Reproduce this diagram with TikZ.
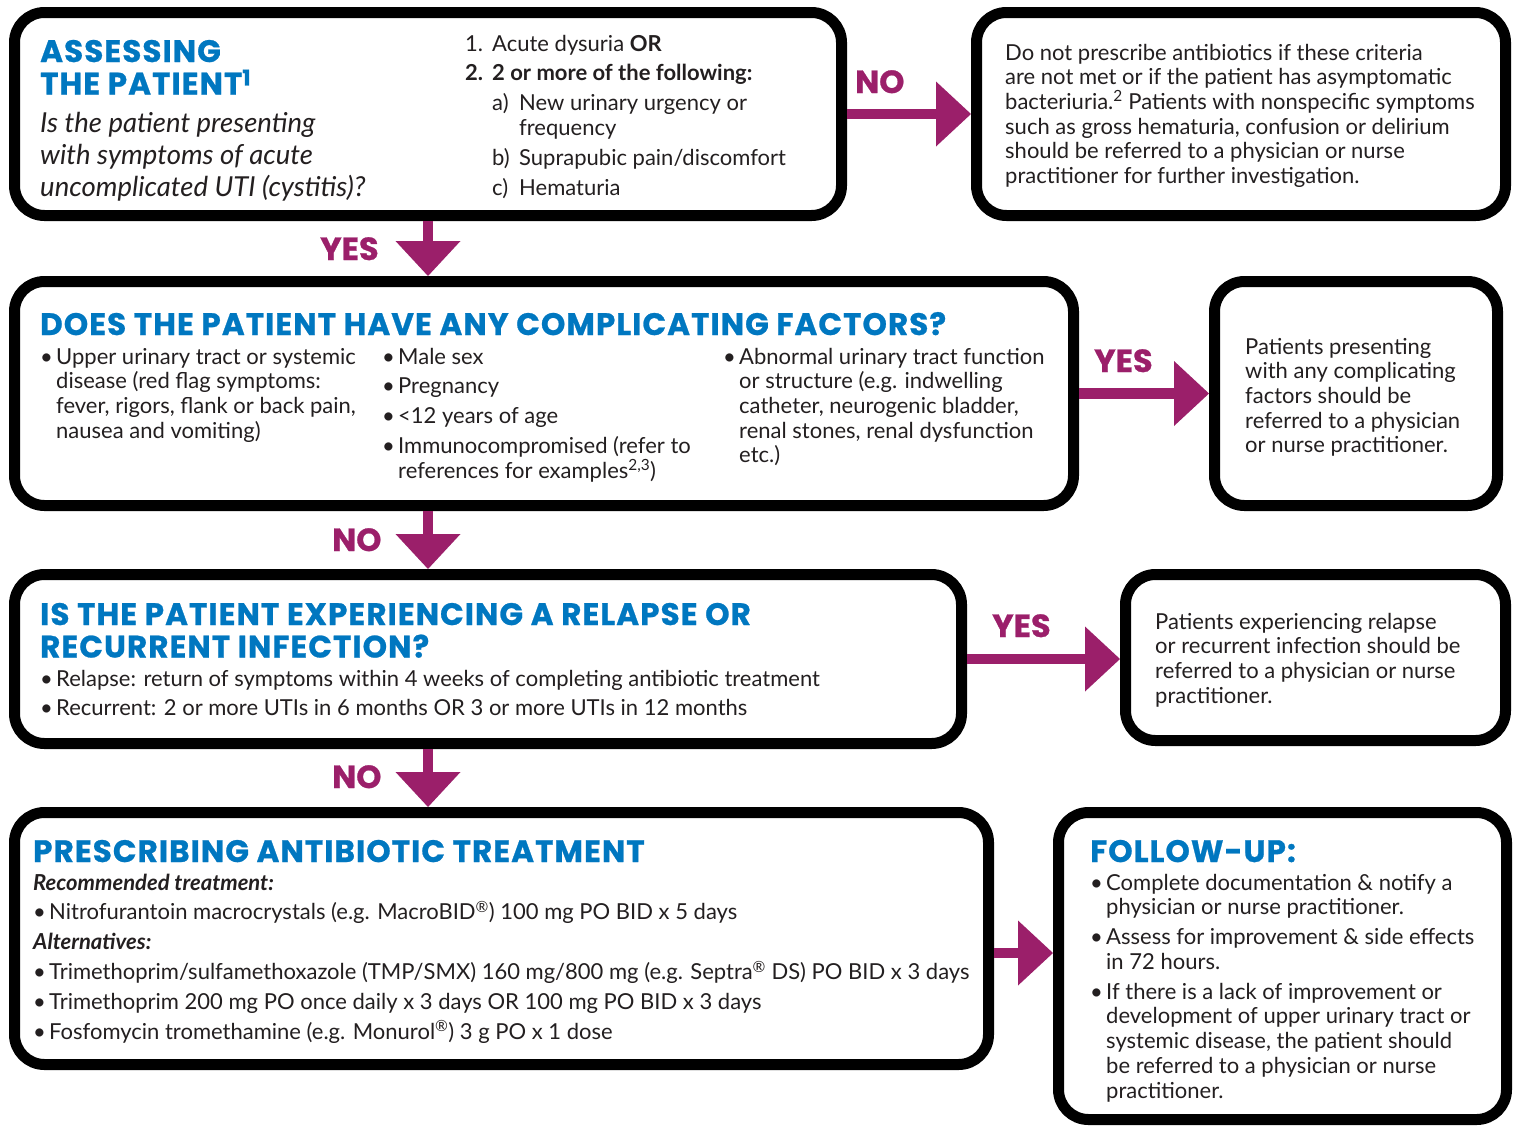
\documentclass[tikz,border=0pt]{standalone}
\usepackage{fontspec}
\setmainfont{Lato}
\newfontfamily\headfont{Poppins}[BoldFeatures={FakeBold=0.8,LetterSpace=3.5}]
\newfontfamily\labfont{Poppins}[BoldFeatures={FakeBold=0.8}]
\usetikzlibrary{arrows.meta,calc}
\definecolor{hblue}{RGB}{0,119,192}
\definecolor{arrc}{RGB}{155,31,106}
\definecolor{txtc}{RGB}{35,31,32}
\newcommand\bodyfont{\fontsize{22}{24.7}\selectfont}
\newcommand\hfont{\headfont\bfseries\fontsize{31}{32.5}\selectfont}
\newcommand\pb[2]{\parbox[t]{#1}{\setlength\parskip{5.2pt}\tolerance=9999 #2}}
\newcommand\bi[1]{{\hangindent=16pt\hangafter=1\noindent\makebox[16pt][l]{\textbullet}#1\par}}
\tikzset{
  box/.style={draw=black, line width=11pt, outer sep=5.5pt, rounded corners=30pt, fill=white, inner sep=0pt, anchor=north west, rectangle},
  txt/.style={inner sep=0pt, anchor=base west, text=txtc, font=\bodyfont},
  head/.style={inner sep=0pt, anchor=base west, text=hblue, font=\hfont},
  lab/.style={inner sep=0pt, anchor=base west, text=arrc, font=\labfont\bfseries\fontsize{32}{32}\selectfont},
  arr/.style={draw=arrc, line width=10.5pt, -{Triangle[length=35pt,width=65pt,line width=0pt]}},
}
\begin{document}
\begin{tikzpicture}[x=1pt,y=-1pt]
\useasboundingbox[fill=white] (0,0) rectangle (1517,1125);
% boxes
\node[box, minimum width=827pt, minimum height=203pt] (b1) at (9,7) {};
\node[box, minimum width=529pt, minimum height=203pt] (b2) at (971,7) {};
\node[box, minimum width=1059pt, minimum height=224pt] (b3) at (9,276) {};
\node[box, minimum width=283pt, minimum height=224pt] (b4) at (1209,276) {};
\node[box, minimum width=947pt, minimum height=169pt] (b5) at (9,569) {};
\node[box, minimum width=380pt, minimum height=166pt] (b6) at (1120,569) {};
\node[box, minimum width=974pt, minimum height=252pt] (b7) at (9,807) {};
\node[box, minimum width=448pt, minimum height=307pt] (b8) at (1053,807) {};
% arrows
\draw[arr] (b1.east) -- (b1.east -| b2.west);
\draw[arr] (b1.south) -- (b1.south |- b3.north);
\draw[arr] (b3.east) -- (b3.east -| b4.west);
\draw[arr] (b1.south |- b3.south) -- (b1.south |- b5.north);
\draw[arr] (b5.east) -- (b5.east -| b6.west);
\draw[arr] (b1.south |- b5.south) -- (b1.south |- b7.north);
\coordinate (a7) at (b7.east |- 0,953);
\draw[arr] (a7) -- (a7 -| b8.west);
% arrow labels
\node[lab] (n1) at (855,93) {NO};
\node[lab] (y1) at (320,260) {YES};
\node[lab] (y2) at (1094,372) {YES};
\node[lab] (n2) at (332,551) {NO};
\node[lab] (y3) at (992,637) {YES};
\node[lab] (n3) at (332,788) {NO};
% box 1
\node[head] (h1) at (40,62) {\pb{400pt}{ASSESSING\\THE PATIENT\textsuperscript{1}}};
\node[txt, font=\itshape\fontsize{27.5}{32}\selectfont] (q1) at (40,132) {\pb{400pt}{Is the patient presenting\\with symptoms of acute\\uncomplicated UTI (cystitis)?}};
\node[txt] (l1) at (465,51) {\pb{380pt}{%
\makebox[27pt][l]{1.}Acute dysuria \textbf{OR}\par
\textbf{\makebox[27pt][l]{2.}2 or more of the following:}\par
{\leftskip=27pt\hangindent=27pt\hangafter=1\noindent\makebox[27pt][l]{a)}New urinary urgency or\\frequency\par}
{\leftskip=27pt\hangindent=27pt\hangafter=1\noindent\makebox[27pt][l]{b)}Suprapubic pain/discomfort\par}
{\leftskip=27pt\hangindent=27pt\hangafter=1\noindent\makebox[27pt][l]{c)}Hematuria\par}}};
% box 2
\node[txt] (t2) at (1005,60) {\pb{500pt}{Do not prescribe antibiotics if these criteria\\are not met or if the patient has asymptomatic\\bacteriuria.\textsuperscript{2} Patients with nonspecific symptoms\\such as gross hematuria, confusion or delirium\\should be referred to a physician or nurse\\practitioner for further investigation.}};
% box 3
\node[head] (h3) at (40,335) {DOES THE PATIENT HAVE ANY COMPLICATING FACTORS?};
\node[txt] (c1) at (40,364) {\pb{340pt}{\bi{Upper urinary tract or systemic\\disease (red flag symptoms:\\fever, rigors, flank or back pain,\\nausea and vomiting)}}};
\node[txt] (c2) at (382,364) {\pb{340pt}{\bi{Male sex}\bi{Pregnancy}\bi{<12 years of age}\bi{Immunocompromised (refer to\\references for examples\textsuperscript{2,3})}}};
\node[txt] (c3) at (723,364) {\pb{340pt}{\bi{Abnormal urinary tract function\\or structure (e.g. indwelling\\catheter, neurogenic bladder,\\renal stones, renal dysfunction\\etc.)}}};
% box 4
\node[txt] (t4) at (1245,354) {\pb{250pt}{Patients presenting\\with any complicating\\factors should be\\referred to a physician\\or nurse practitioner.}};
% box 5
\node[head] (h5) at (40,625) {\pb{900pt}{IS THE PATIENT EXPERIENCING A RELAPSE OR\\RECURRENT INFECTION?}};
\node[txt] (c5) at (40,686) {\pb{900pt}{\bi{Relapse: return of symptoms within 4 weeks of completing antibiotic treatment}\bi{Recurrent: 2 or more UTIs in 6 months OR 3 or more UTIs in 12 months}}};
% box 6
\node[txt] (t6) at (1155,629) {\pb{340pt}{Patients experiencing relapse\\or recurrent infection should be\\referred to a physician or nurse\\practitioner.}};
% box 7
\node[head] (h7) at (33,862) {PRESCRIBING ANTIBIOTIC TREATMENT};
\node[txt] (c7) at (33,890) {\pb{940pt}{\noindent\textit{\textbf{Recommended treatment:}}\par
\bi{Nitrofurantoin macrocrystals (e.g. MacroBID\textsuperscript{®}) 100 mg PO BID x 5 days}
\noindent\textit{\textbf{Alternatives:}}\par
\bi{Trimethoprim/sulfamethoxazole (TMP/SMX) 160 mg/800 mg (e.g. Septra\textsuperscript{®} DS) PO BID x 3 days}
\bi{Trimethoprim 200 mg PO once daily x 3 days OR 100 mg PO BID x 3 days}
\bi{Fosfomycin tromethamine (e.g. Monurol\textsuperscript{®}) 3 g PO x 1 dose}}};
% box 8
\node[head] (h8) at (1090,862) {FOLLOW-UP:};
\node[txt] (c8) at (1090,890) {\pb{410pt}{\bi{Complete documentation \& notify a\\physician or nurse practitioner.}\bi{Assess for improvement \& side effects\\in 72 hours.}\bi{If there is a lack of improvement or\\development of upper urinary tract or\\systemic disease, the patient should\\be referred to a physician or nurse\\practitioner.}}};
\end{tikzpicture}
\end{document}
